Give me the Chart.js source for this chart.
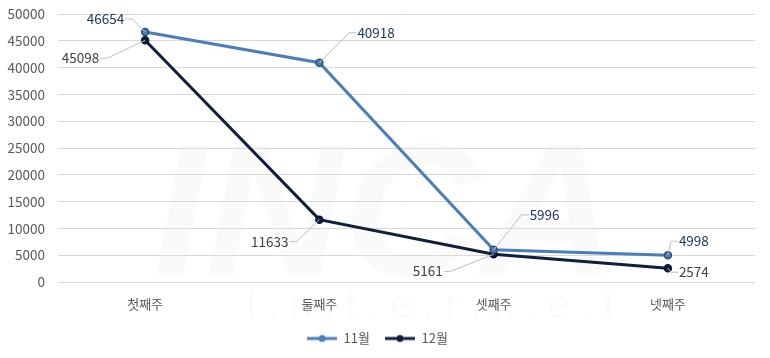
<!DOCTYPE html>
<html><head><meta charset="utf-8">
<script src="https://cdn.jsdelivr.net/npm/chart.js@4/dist/chart.umd.min.js"></script>
<style>html,body{margin:0;padding:0;background:#fff}#wrap{width:770px;height:358px}</style>
</head><body><div id="wrap"><canvas id="c" width="770" height="358"></canvas></div>
<script>
const categories = ['첫째주', '둘째주', '셋째주', '넷째주'];
const seriesNames = ['11월', '12월'];
const nov = [46654, 40918, 5996, 4998];
const dec = [45098, 11633, 5161, 2574];
const yTicks = [0, 5000, 10000, 15000, 20000, 25000, 30000, 35000, 40000, 45000, 50000];

const FONT = "'Noto Sans CJK KR', 'Noto Sans', sans-serif";
const C11 = '#4a7ebb', C12 = '#0f1f3d';

// label placement relative to point: dx, dy, text side
const labelOffsets = [
  [[-21, -13, 'right'], [38, -30, 'left'], [36, -35, 'left'], [11, -14, 'left']],
  [[-46, 18, 'right'], [-31, 22, 'right'], [-51, 17, 'right'], [11, 4, 'left']]
];

function legendIcon(color) {
  const cv = document.createElement('canvas');
  cv.width = 30; cv.height = 10;
  const g = cv.getContext('2d');
  g.strokeStyle = color; g.lineWidth = 3;
  g.beginPath(); g.moveTo(0, 5); g.lineTo(30, 5); g.stroke();
  g.fillStyle = color; g.beginPath(); g.arc(15, 5, 3.5, 0, Math.PI * 2); g.fill();
  return cv;
}

const watermark = {
  id: 'watermark',
  beforeDraw(chart) {
    const ctx = chart.ctx;
    ctx.save();
    ctx.fillStyle = 'rgba(0,0,0,0.018)';
    ctx.font = "italic bold 190px 'Liberation Sans', sans-serif";
    ctx.textBaseline = 'alphabetic';
    ctx.textAlign = 'center';
    ctx.fillText('INCA', 385, 275);
    ctx.font = "40px 'Liberation Sans', sans-serif";
    ctx.fillText('I . n . t . e . r . n . e . t', 430, 318);
    ctx.restore();
  }
};

const dataLabels = {
  id: 'dataLabels',
  afterDatasetsDraw(chart) {
    const ctx = chart.ctx;
    ctx.save();
    chart.data.datasets.forEach((ds, di) => {
      const meta = chart.getDatasetMeta(di);
      meta.data.forEach((pt, i) => {
        const [dx, dy, side] = labelOffsets[di][i];
        const tx = pt.x + dx, ty = pt.y + dy;
        const txt = String(ds.data[i]);
        ctx.font = '13.5px ' + FONT;
        const ex = side === 'right' ? tx + 1 : tx - 1;
        const hx = side === 'right' ? ex + 7 : ex - 7;
        ctx.strokeStyle = '#bfbfbf'; ctx.lineWidth = 1;
        ctx.beginPath();
        ctx.moveTo(ex, ty); ctx.lineTo(hx, ty); ctx.lineTo(pt.x, pt.y); ctx.stroke();
        ctx.fillStyle = di === 0 ? '#1f3864' : '#404040';
        ctx.textBaseline = 'middle';
        ctx.textAlign = side;
        ctx.fillText(txt, tx, ty);
      });
    });
    ctx.restore();
  }
};

new Chart(document.getElementById('c'), {
  type: 'line',
  data: {
    labels: categories,
    datasets: [
      { label: seriesNames[0], data: nov, borderColor: C11, backgroundColor: C11,
        pointBackgroundColor: C11, pointBorderColor: '#2f4f7a', borderWidth: 3, pointRadius: 3.5, pointBorderWidth: 1.5, tension: 0 },
      { label: seriesNames[1], data: dec, borderColor: C12, backgroundColor: C12,
        pointBackgroundColor: C12, pointBorderColor: '#0a1530', borderWidth: 3, pointRadius: 3.5, pointBorderWidth: 1.5, tension: 0 }
    ]
  },
  options: {
    responsive: false,
    animation: false,
    layout: { padding: { top: 14, right: 15, left: 0, bottom: 3 } },
    plugins: {
      legend: {
        position: 'bottom',
        labels: {
          usePointStyle: true,
          pointStyleWidth: 30,
          boxHeight: 10,
          font: { family: FONT, size: 13 },
          color: '#595959',
          padding: 15,
          generateLabels(chart) {
            return chart.data.datasets.map((d, i) => ({
              text: d.label, pointStyle: legendIcon(i === 0 ? C11 : C12),
              fillStyle: d.borderColor, strokeStyle: d.borderColor, lineWidth: 0,
              hidden: false, datasetIndex: i, fontColor: '#595959'
            }));
          }
        }
      },
      tooltip: { enabled: false }
    },
    scales: {
      x: {
        offset: true,
        grid: { display: false, drawTicks: false },
        border: { display: false },
        ticks: { font: { family: FONT, size: 13 }, color: '#595959', padding: 14 },
        afterFit(s) { s.height = 35; s.paddingLeft = 0; s.paddingRight = 0; }
      },
      y: {
        min: 0, max: 50000,
        afterBuildTicks(s) { s.ticks = yTicks.map(v => ({ value: v })); },
        grid: { color: '#d9d9d9', drawTicks: false },
        border: { display: false },
        ticks: { font: { family: FONT, size: 13.5 }, color: '#595959', padding: 13,
          callback: v => String(v) },
        afterFit(s) { s.width = 58; s.paddingTop = 0; s.paddingBottom = 0; }
      }
    }
  },
  plugins: [watermark, dataLabels]
});
</script></body></html>
